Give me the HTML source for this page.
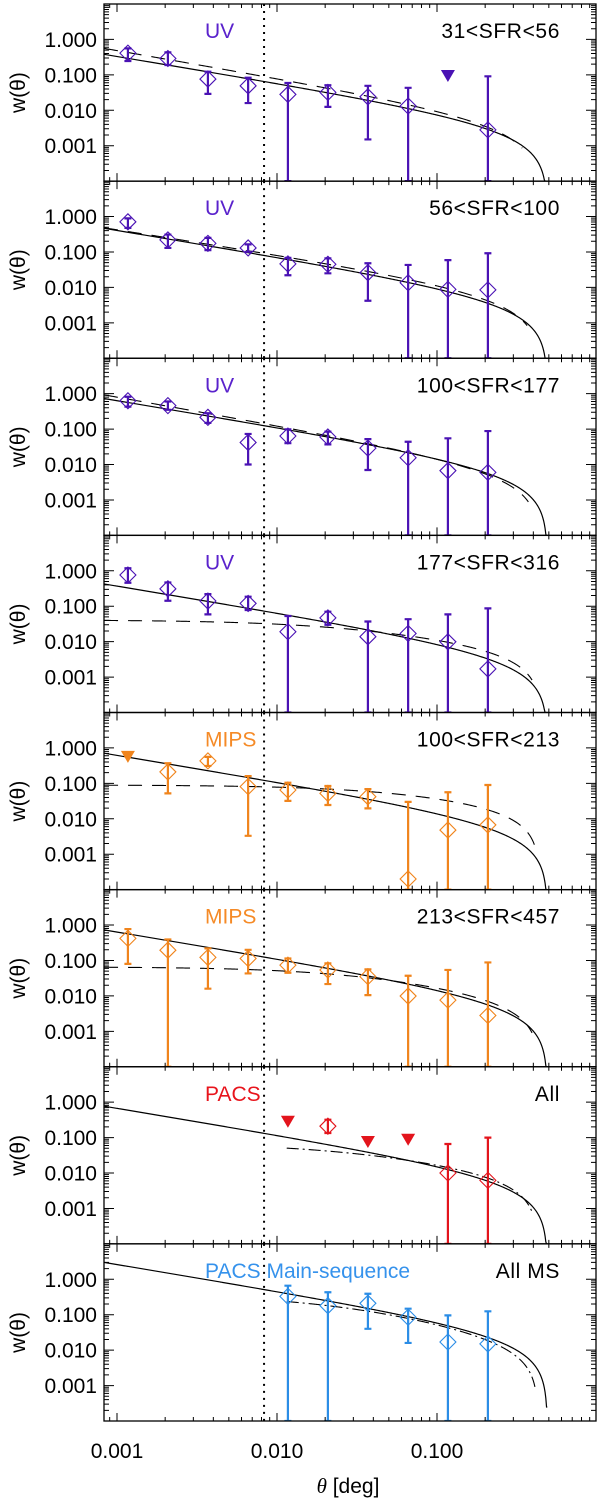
<!DOCTYPE html>
<html><head><meta charset="utf-8"><style>
html,body{margin:0;padding:0;background:#fff;}
svg{display:block;font-family:"Liberation Sans",sans-serif;}
</style></head><body>
<svg id="chart" width="600" height="1499" viewBox="0 0 600 1499" xmlns="http://www.w3.org/2000/svg"></svg>
<script>
// ---- data ----
const thetaBins = [0.00117,0.00208,0.0037,0.0066,0.0117,0.0208,0.037,0.066,0.117,0.208];
const panelInstrument = ["UV","UV","UV","UV","MIPS","MIPS","PACS","PACS Main-sequence"];
const panelRange = ["31<SFR<56","56<SFR<100","100<SFR<177","177<SFR<316","100<SFR<213","213<SFR<457","All","All MS"];
const Z = 1e-6; // error bar extends to axis
const wP1 = [0.41,0.29,0.076,0.049,0.028,0.032,0.024,0.0132,null,0.0028];
const hiP1 = [0.56,0.43,0.123,0.083,0.059,0.051,0.049,0.043,null,0.091];
const loP1 = [0.245,0.19,0.029,0.016,Z,0.0125,0.0015,Z,null,Z];
const limP1 = [null,null,null,null,null,null,null,null,0.093,null];
const wP2 = [0.71,0.22,0.175,0.13,0.046,0.045,0.026,0.0135,0.0088,0.0085];
const hiP2 = [0.89,0.31,0.25,0.164,0.068,0.066,0.048,0.043,0.059,0.092];
const loP2 = [0.48,0.13,0.113,0.101,0.022,0.025,0.0042,Z,Z,Z];
const limP2 = [null,null,null,null,null,null,null,null,null,null];
const wP3 = [0.63,0.46,0.215,0.042,0.064,0.06,0.029,0.0155,0.0067,0.006];
const hiP3 = [0.82,0.6,0.28,0.073,0.098,0.085,0.052,0.044,0.055,0.088];
const loP3 = [0.43,0.35,0.15,0.010,0.040,0.037,0.007,Z,Z,Z];
const limP3 = [null,null,null,null,null,null,null,null,null,null];
const wP4 = [0.76,0.31,0.14,0.12,0.019,0.047,0.0138,0.017,0.0099,0.0017];
const hiP4 = [1.18,0.47,0.22,0.186,0.053,0.07,0.037,0.043,0.059,0.087];
const loP4 = [0.46,0.143,0.059,0.078,Z,0.03,Z,Z,Z,Z];
const limP4 = [null,null,null,null,null,null,null,null,null,null];
const wP5 = [null,0.21,0.43,0.081,0.065,0.052,0.042,0.0002,0.0048,0.0067];
const hiP5 = [null,0.37,0.56,0.16,0.104,0.084,0.069,0.030,0.056,0.09];
const loP5 = [null,0.052,0.31,0.0033,0.032,0.0245,0.0197,Z,Z,Z];
const limP5 = [0.56,null,null,null,null,null,null,null,null,null];
const wP6 = [0.42,0.195,0.122,0.114,0.074,0.054,0.035,0.0099,0.0076,0.0028];
const hiP6 = [0.77,0.39,0.22,0.2,0.114,0.083,0.056,0.037,0.054,0.088];
const loP6 = [0.08,Z,0.016,0.043,0.045,0.0216,0.0105,Z,Z,Z];
const limP6 = [null,null,null,null,null,null,null,null,null,null];
const wP7 = [null,null,null,null,null,0.21,null,null,0.01,0.0062];
const hiP7 = [null,null,null,null,null,0.32,null,null,0.066,0.10];
const loP7 = [null,null,null,null,null,0.135,null,null,Z,Z];
const limP7 = [null,null,null,null,0.28,null,0.075,0.087,null,null];
const wP8 = [null,null,null,null,0.33,0.18,0.21,0.085,0.017,0.015];
const hiP8 = [null,null,null,null,0.66,0.43,0.39,0.148,0.096,0.125];
const loP8 = [null,null,null,null,Z,Z,0.04,0.016,Z,Z];
const limP8 = [null,null,null,null,null,null,null,null,null,null];
// model curves: w = A*(theta+t0)^-d * (1-(theta/c)^p)
const solidAmp = [0.00187,0.0023,0.0036,0.0021,0.0035,0.0036,0.0038,0.0148];
const dashAmp = [0.00223,0.0034,0.0032,0.0058,0.0201,0.00568,0.0067,0.0111];
const dashSlope = [0.78,0.7,0.8,0.5,0.5,0.7,0.6,0.9];
const dashCore = [0,0,0,0.02,0.05,0.03,0.02,0.02];
const dashCut = [0.43,0.44,0.44,0.45,0.44,0.44,0.43,0.43];
const dashPow = [0.78,0.7,0.8,0.7,0.8,0.8,0.8,0.8];
const dashStart = [0.00083,0.00083,0.00083,0.00083,0.00083,0.00083,0.0115,0.0115];
const yTickLabels = ["1.000","0.100","0.010","0.001"];
const yTickValues = [1,0.1,0.01,0.001];
const xTickLabels = ["0.001","0.010","0.100"];
const xTickValues = [0.001,0.01,0.1];
const fiberLimit = 0.0083;

const panels = [
 {w:wP1,hi:hiP1,lo:loP1,lim:limP1},{w:wP2,hi:hiP2,lo:loP2,lim:limP2},
 {w:wP3,hi:hiP3,lo:loP3,lim:limP3},{w:wP4,hi:hiP4,lo:loP4,lim:limP4},
 {w:wP5,hi:hiP5,lo:loP5,lim:limP5},{w:wP6,hi:hiP6,lo:loP6,lim:limP6},
 {w:wP7,hi:hiP7,lo:loP7,lim:limP7},{w:wP8,hi:hiP8,lo:loP8,lim:limP8}];
const colors = ["#4a12b4","#4a12b4","#4a12b4","#4a12b4","#f0841c","#f0841c","#e3141c","#2b8de6"];
const labelColors = ["#5a22cc","#5a22cc","#5a22cc","#5a22cc","#f58a26","#f58a26","#e8141c","#3592ec"];

// ---- layout ----
const L=104, R=596, TOP=4, BOT=1421, NP=8;
const PH=(BOT-TOP)/NP;
const X0=117, DEC=160;
const YDEC=PH/5;
const xs = t => X0 + DEC*(Math.log10(t)+3);
const ys = (p,v) => TOP+PH*p + YDEC*(1-Math.log10(v));
const NS="http://www.w3.org/2000/svg";
const svg=document.getElementById('chart');
function mk(tag,attrs,parent){const e=document.createElementNS(NS,tag);for(const k in attrs)e.setAttribute(k,attrs[k]);(parent||svg).appendChild(e);return e;}
const xmin=Math.pow(10,(L-X0)/DEC-3), xmax=Math.pow(10,(R-X0)/DEC-3);

function model(t,A,d,t0,c,p){const f=1-Math.pow(t/c,p);if(f<=0)return null;return A*Math.pow(t+t0,-d)*f;}

for(let p=0;p<NP;p++){
  const top=TOP+PH*p, bot=top+PH;
  const g=mk('g',{});
  
  
  const clipId='clip'+p;
  const cp=mk('clipPath',{id:clipId},g);
  mk('rect',{x:L,y:top,width:R-L,height:PH},cp);
  const inner=mk('g',{'clip-path':'url(#'+clipId+')'},g);
  const vl=mk('line',{x1:xs(fiberLimit),x2:xs(fiberLimit),y1:top,y2:bot,stroke:'#000','stroke-width':2,'stroke-dasharray':'2,5'},inner);
  
  
  // solid model
  let d='';let first=true;
  for(let i=0;i<=600;i++){const t=Math.pow(10,Math.log10(xmin)+(Math.log10(0.489)-Math.log10(xmin))*i/600);
    const v=model(t,solidAmp[p],0.75,0,0.49,0.75); if(v===null){break;}
    const y=Math.min(ys(p,Math.max(v,1e-6)),bot-(p===7?14:0));
    d+=(first?'M':'L')+xs(t).toFixed(2)+','+y.toFixed(2);first=false;}
  const sl=mk('path',{d:d,fill:'none',stroke:'#000','stroke-width':1.2},inner);
  
  
  // dashed model
  d='';first=true;
  for(let i=0;i<=400;i++){const t=Math.pow(10,Math.log10(dashStart[p])+(Math.log10(xmax)-Math.log10(dashStart[p]))*i/400);
    const v=model(t,dashAmp[p],dashSlope[p],dashCore[p],dashCut[p],dashPow[p]); if(v===null||v<8e-4){break;}
    d+=(first?'M':'L')+xs(t).toFixed(2)+','+ys(p,v).toFixed(2);first=false;}
  const dl=mk('path',{d:d,fill:'none',stroke:'#000','stroke-width':1.1,'stroke-dasharray':p>=6?'12,4,2,4':'14,10'},inner);
  
  
  // data
  const P=panels[p], col=colors[p];
  for(let i=0;i<thetaBins.length;i++){
    const x=xs(thetaBins[i]);
    if(P.w[i]!==null){
      const yh=ys(p,P.hi[i]), yl=Math.min(ys(p,P.lo[i]),bot), yc=ys(p,P.w[i]);
      const eb=mk('path',{d:`M${x},${yh}L${x},${yl}M${x-3.5},${yh}L${x+3.5},${yh}M${x-3.5},${yl}L${x+3.5},${yl}`,stroke:col,'stroke-width':2.2,fill:'none'},inner);
      
      
      const dm=mk('path',{d:`M${x},${yc-8}L${x+8},${yc}L${x},${yc+8}L${x-8},${yc}Z`,stroke:col,'stroke-width':1.1,fill:'none'},inner);
      
      
    }
    if(P.lim[i]!==null){
      const yc=ys(p,P.lim[i]);
      const tr=mk('path',{d:`M${x-7},${yc-6}L${x+7},${yc-6}L${x},${yc+6}Z`,fill:col},inner);
      
      
    }
  }
  const fr=mk('rect',{x:L,y:top,width:R-L,height:PH,fill:'none',stroke:'#000','stroke-width':1.3},g);
  
  
  let td='';
  for(let e=-4;e<1;e++){for(let m=1;m<10;m++){const v=m*Math.pow(10,e);const y=ys(p,v);if(y<top||y>bot)continue;
    const len=(m===1)?10:5; td+=`M${L},${y}L${L+len},${y}M${R},${y}L${R-len},${y}`;}}
  for(let e=-4;e<0;e++){for(let m=1;m<10;m++){const v=m*Math.pow(10,e);const x=xs(v);if(x<L||x>R)continue;
    const len=(m===1)?8:4; td+=`M${x},${top}L${x},${top+len}M${x},${bot}L${x},${bot-len}`;}}
  const tk=mk('path',{d:td,stroke:'#000','stroke-width':1,fill:'none'},g);
  
  
  for(let k=0;k<yTickValues.length;k++){
    const t=mk('text',{x:97,y:ys(p,yTickValues[k])+7.5,'text-anchor':'end','font-size':21,fill:'#000'},g);
    t.textContent=yTickLabels[k];
    
    
  }
  const yt=mk('text',{x:0,y:0,'text-anchor':'middle','font-size':21,transform:`translate(25,${top+PH/2}) rotate(-90)`},g);
  yt.textContent='w(θ)';
  
  
  const instX=[205,205,205,205,205,205,205,205];
  const inst=mk('text',{x:instX[p],y:top+34,'text-anchor':'start','font-size':21,fill:labelColors[p]},g);
  inst.textContent=panelInstrument[p];
  
  
  const rg=mk('text',{x:560,y:top+34,'text-anchor':'end','font-size':21,fill:'#000','word-spacing':'0'},g);
  rg.textContent=panelRange[p].replace(/</g,' < ').replace(/ < /g,'<');
  rg.setAttribute('letter-spacing','0.6');
  
  
}
for(let k=0;k<xTickValues.length;k++){
  const t=mk('text',{x:xs(xTickValues[k]),y:1458,'text-anchor':'middle','font-size':21});
  t.textContent=xTickLabels[k];
  
  
}
const xt=mk('text',{x:348,y:1493,'text-anchor':'middle','font-size':21});
xt.innerHTML='<tspan font-style="italic" font-family="Liberation Serif, serif">θ</tspan> [deg]';


</script>
</body></html>
